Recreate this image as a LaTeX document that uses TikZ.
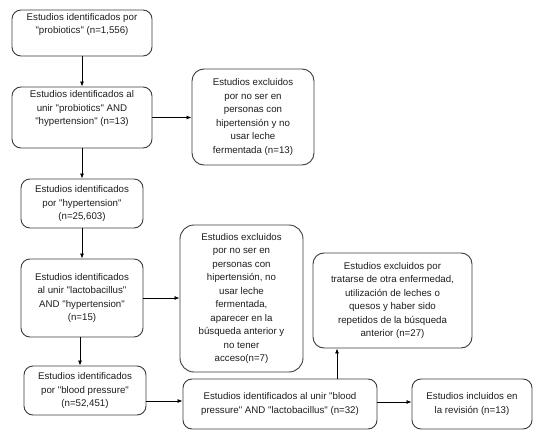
\documentclass[tikz,border=0pt]{standalone}
\usepackage{fontspec}
\newfontfamily\arialf{Liberation Sans}
\usetikzlibrary{arrows.meta}
\definecolor{bordercol}{HTML}{3C3C3C}
\definecolor{txtcol}{HTML}{1E1E1E}
\begin{document}
\begin{tikzpicture}[x=1pt,y=-1pt,
  box/.style={draw=bordercol, line width=0.9pt, rounded corners=9pt, inner sep=0pt,
    align=center, text=txtcol, font=\arialf\fontsize{9.7}{13.5}\selectfont},
  txt/.style={inner sep=0pt, align=center, text=txtcol, font=\arialf\fontsize{9.7}{13.5}\selectfont},
  arr/.style={draw=black, line width=0.8pt, -{Latex[length=5pt,width=4pt]}}]
\useasboundingbox (0,0) rectangle (542,439);
\fill[white] (0,0) rectangle (542,439);
% boxes
\node[box, minimum width=140pt, minimum height=46pt] (b1) at (82,33) {};
\node[txt] (t1) at (82,24.5) {Estudios identificados por\\"probiotics" (n=1,556)};
\node[box, minimum width=140pt, minimum height=61pt] (b2) at (82,117.5) {};
\node[txt] (t2) at (82,108.5) {Estudios identificados al\\unir "probiotics" AND\\"hypertension" (n=13)};
\node[box, rounded corners=12pt, minimum width=122pt, minimum height=96pt] (e1) at (253,117)
  {Estudios excluidos\\por no ser en\\personas con\\hipertensión y no\\usar leche\\fermentada (n=13)};
\node[box, minimum width=122pt, minimum height=49pt] (b4) at (82,203.5)
  {Estudios identificados\\por "hypertension"\\(n=25,603)};
\node[box, minimum width=122pt, minimum height=78pt] (b5) at (82,298)
  {Estudios identificados\\al unir "lactobacillus"\\AND "hypertension"\\(n=15)};
\node[box, rounded corners=14pt, minimum width=123pt, minimum height=147pt] (e2) at (241.5,298.5)
  {Estudios excluidos\\por no ser en\\personas con\\hipertensión, no\\usar leche\\fermentada,\\aparecer en la\\búsqueda anterior y\\no tener\\acceso(n=7)};
\node[box, minimum width=122pt, minimum height=49pt] (b6) at (85,390.5)
  {Estudios identificados\\por "blood pressure"\\(n=52,451)};
\node[box, minimum width=194pt, minimum height=50pt] (b7) at (280,404)
  {Estudios identificados al unir "blood\\pressure" AND "lactobacillus" (n=32)};
\node[box, rounded corners=11pt, minimum width=159pt, minimum height=95pt] (e3) at (392.5,300.5)
  {Estudios excluidos por\\tratarse de otra enfermedad,\\utilización de leches o\\quesos y haber sido\\repetidos de la búsqueda\\anterior (n=27)};
\node[box, minimum width=120pt, minimum height=50pt] (b8) at (472,404)
  {Estudios incluidos en\\la revisión (n=13)};
% connectors
\draw[arr] (b1.south) -- (b2.north);
\draw[arr] (b2.east) -- (b2.east -| e1.west);
\draw[arr] (b2.south) -- (b4.north);
\draw[arr] (b4.south) -- (b5.north);
\draw[arr] (b5.east) -- (b5.east -| e2.west);
\draw[arr] ([xshift=-2pt]b5.south) -- ([xshift=-2pt]b5.south |- b6.north);
\draw[arr] ([yshift=3pt]b6.east |- b7.west) -- ([yshift=3pt]b7.west);
\draw[arr] ([xshift=57pt]b7.north) -- ([xshift=57pt]b7.north |- e3.south);
\draw[arr] ([yshift=2pt]b7.east) -- ([yshift=2pt]b7.east -| b8.west);
\end{tikzpicture}
\end{document}
